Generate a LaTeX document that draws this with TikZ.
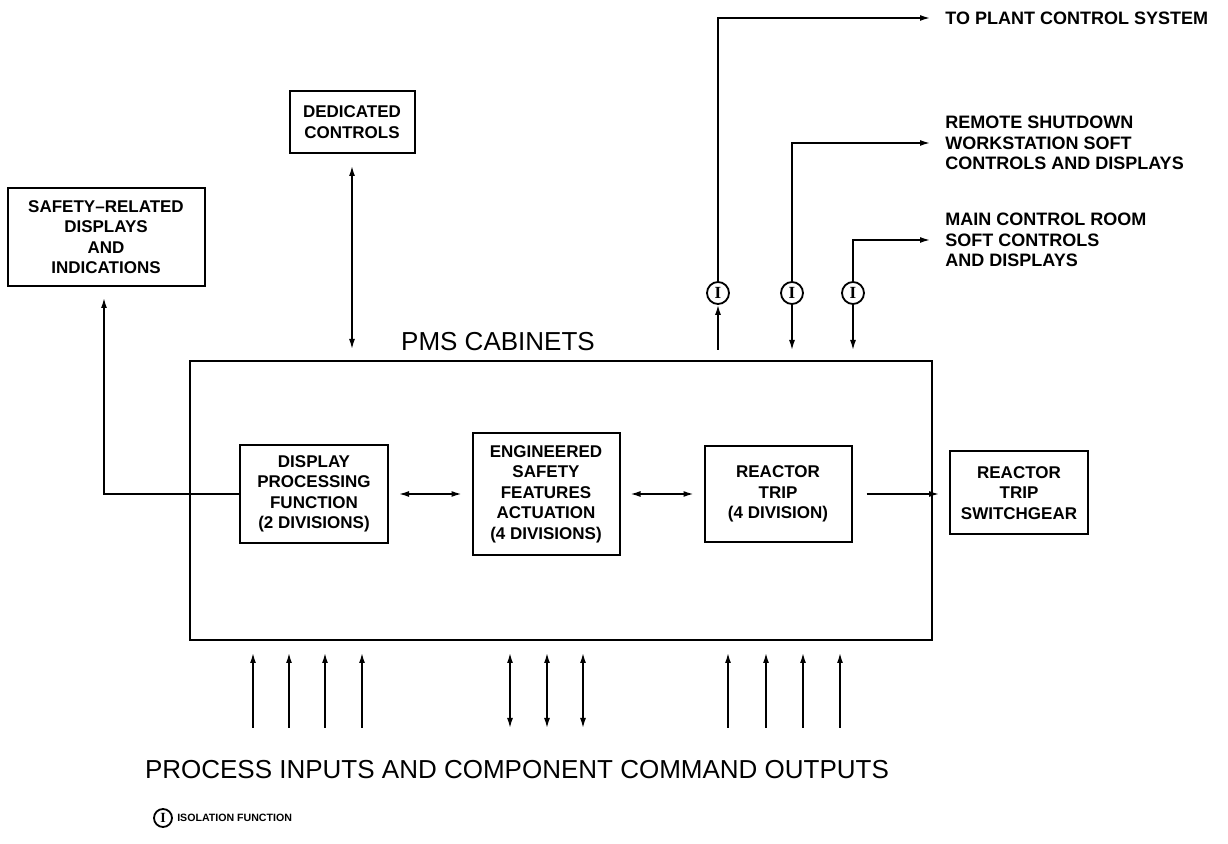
\documentclass[tikz,border=0pt]{standalone}
\usepackage{fontspec}
\setmainfont{Liberation Sans}
\newfontfamily\isofont{Liberation Serif}
\usetikzlibrary{arrows.meta,positioning,calc}
\tikzset{
    blk/.style={
        draw,line width=1pt,align=center,inner sep=2pt,
        font=\bfseries\fontsize{8.5}{10.25}\selectfont
    },
    lbl/.style={
        anchor=west,align=left,inner xsep=7.5pt,
        font=\bfseries\fontsize{9}{10.25}\selectfont
    },
    iso/.style={
        draw,circle,line width=0.9pt,minimum size=11pt,inner sep=0pt,
        font=\isofont\bfseries\fontsize{8.5}{8.5}\selectfont
    },
    big/.style={font=\fontsize{13}{15}\selectfont},
    arrow/.style={-{Latex[length=5pt,width=3pt]},line width=0.75pt},
    twoway/.style={{Latex[length=5pt,width=3pt]}-{Latex[length=5pt,width=3pt]},line width=0.75pt}
}

\begin{document}
\begin{tikzpicture}[x=0.5pt,y=-0.5pt]
\useasboundingbox (0,0) rectangle (1228,844);

% cabinet and the three functions inside it
\node[draw,line width=1pt,minimum width=371pt,minimum height=139.5pt]
(cab) at (561,500.5){};
\node[big] (pms) at (498,342){PMS CABINETS};

\node[blk,minimum width=74pt,minimum height=49pt]
(dpf) at (314,494){DISPLAY\\PROCESSING\\FUNCTION\\(2 DIVISIONS)};
\node[blk,minimum width=73.5pt,minimum height=61pt]
(esf) at (546,494){ENGINEERED\\SAFETY\\FEATURES\\ACTUATION\\(4 DIVISIONS)};
\node[blk,minimum width=73.5pt,minimum height=48pt]
(rt) at (778,494){REACTOR\\TRIP\\(4 DIVISION)};

% boxes outside the cabinet
\node[blk,minimum width=69pt,minimum height=41.5pt]
(swg) at (1019,493){REACTOR\\TRIP\\SWITCHGEAR};
\node[blk,minimum width=98.5pt,minimum height=49pt]
(srd) at (106,237){SAFETY--RELATED\\DISPLAYS\\AND\\INDICATIONS};
\node[blk,minimum width=62.5pt,minimum height=31pt]
(dc) at (352,122){DEDICATED\\CONTROLS};

% isolation functions and their destinations
\node[iso] (iso1) at (718,293){I};
\node[iso] (iso2) at (792,293){I};
\node[iso] (iso3) at (853,293){I};
\node[lbl] (pcs) at (930,18){TO PLANT CONTROL SYSTEM};
\node[lbl] (rsw) at (930,143){REMOTE SHUTDOWN\\WORKSTATION SOFT\\CONTROLS AND DISPLAYS};
\node[lbl] (mcr) at (930,240){MAIN CONTROL ROOM\\SOFT CONTROLS\\AND DISPLAYS};
\coordinate (t1) at (718,350);
\coordinate (t2) at (792,350);
\coordinate (t3) at (853,350);

\draw[arrow](t1)--(iso1);
\draw[arrow](iso2)--(t2);
\draw[arrow](iso3)--(t3);
\draw[arrow](iso1.north)|-(pcs.west);
\draw[arrow](iso2.north)|-(rsw.west);
\draw[arrow](iso3.north)|-(mcr.west);

% links between the functions
\draw[twoway,shorten <=5pt,shorten >=5pt](dpf)--(esf);
\draw[twoway,shorten <=5pt,shorten >=5pt](esf)--(rt);
\draw[arrow,shorten <=7pt,shorten >=5pt](rt.east)--(rt.east-|swg.west);
\draw[arrow,shorten >=5.5pt](dpf.west)-|([xshift=-1pt]srd.south);
\draw[twoway,shorten <=6pt,shorten >=5.5pt](dc.south)--(dc.south|-cab.north);

% process inputs and command outputs
\foreach \x in {253,289,325,362,728,766,803,840}
  \draw[arrow,shorten >=6pt](\x,728)--(\x,0|-cab.south);
\foreach \x in {510,547,583}
  \draw[twoway,shorten >=6pt](\x,728)--(\x,0|-cab.south);
\node[big] (pic) at (517,770){PROCESS INPUTS AND COMPONENT COMMAND OUTPUTS};

% legend
\node[iso,minimum size=9pt,font=\isofont\bfseries\fontsize{7}{7}\selectfont]
(key) at (163,818){I};
\node[anchor=west,inner xsep=2pt,font=\bfseries\fontsize{5.3}{6}\selectfont]
(keytxt) at (key.east){ISOLATION FUNCTION};

\end{tikzpicture}
\end{document}
